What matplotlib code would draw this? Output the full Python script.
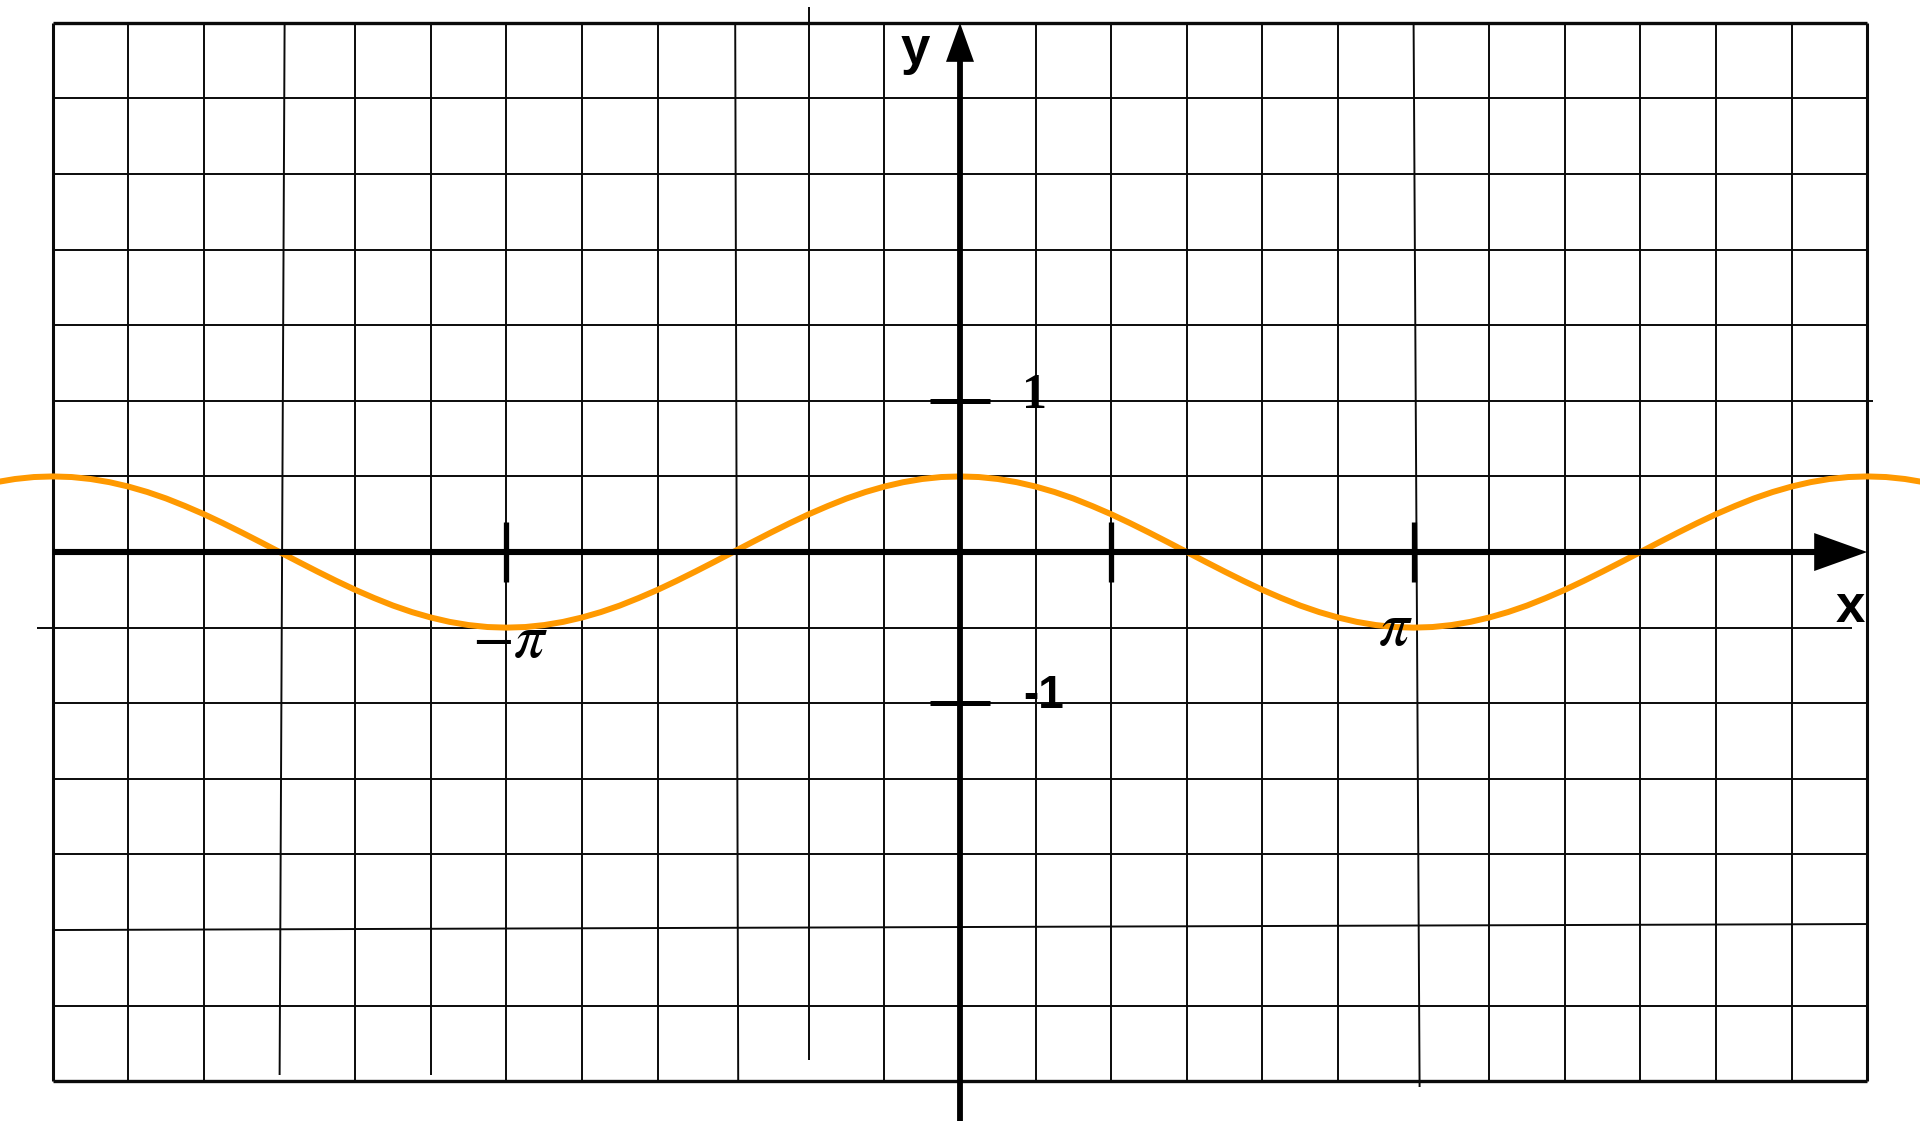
"""Graph of y = 0.5 cos x drawn on squared paper, with hand-drawn axes."""

import numpy as np
import matplotlib
matplotlib.use("Agg")
import matplotlib.pyplot as plt

# one grid cell is pi/6 along x and 0.5 along y
CELL_X = np.pi / 6
CELL_Y = 0.5

grid_cols = list(range(-12, 13))   # vertical lines, in cells
grid_rows = list(range(-7, 8))     # horizontal lines, in cells

# y = 0.5 cos x every quarter cell (pi/24), x from -13 to 13 cells
curve_steps = list(range(-52, 53))
curve_y = [
    0.433, 0.462, 0.483, 0.496,
    0.5, 0.496, 0.483, 0.462, 0.433, 0.397, 0.354, 0.304, 0.25, 0.191, 0.129, 0.065,
    0.0, -0.065, -0.129, -0.191, -0.25, -0.304, -0.354, -0.397, -0.433, -0.462, -0.483, -0.496,
    -0.5, -0.496, -0.483, -0.462, -0.433, -0.397, -0.354, -0.304, -0.25, -0.191, -0.129, -0.065,
    0.0, 0.065, 0.129, 0.191, 0.25, 0.304, 0.354, 0.397, 0.433, 0.462, 0.483, 0.496,
    0.5, 0.496, 0.483, 0.462, 0.433, 0.397, 0.354, 0.304, 0.25, 0.191, 0.129, 0.065,
    0.0, -0.065, -0.129, -0.191, -0.25, -0.304, -0.354, -0.397, -0.433, -0.462, -0.483, -0.496,
    -0.5, -0.496, -0.483, -0.462, -0.433, -0.397, -0.354, -0.304, -0.25, -0.191, -0.129, -0.065,
    0.0, 0.065, 0.129, 0.191, 0.25, 0.304, 0.354, 0.397, 0.433, 0.462, 0.483, 0.496,
    0.5, 0.496, 0.483, 0.462, 0.433,
]

x_ticks = [-np.pi, np.pi / 3, np.pi]
x_tick_labels = [r"$-\pi$", "", r"$\pi$"]
y_ticks = [1, -1]
y_tick_labels = ["1", "-1"]

W, H = 1920, 1121
X_LIM = (-6.649, 6.649)
Y_LIM = (-3.763, 3.651)
SX = (X_LIM[1] - X_LIM[0]) / W
SY = (Y_LIM[1] - Y_LIM[0]) / H


def px(x, y):
    """Pixel position (from top-left) to data coordinates."""
    return X_LIM[0] + x * SX, Y_LIM[1] - y * SY


ORANGE = "#FF9900"
INK = "#0a0a0a"

plt.rcParams["mathtext.fontset"] = "stix"

fig = plt.figure(figsize=(W / 100, H / 100), dpi=100)
ax = fig.add_axes([0, 0, 1, 1])
ax.set_xlim(*X_LIM)
ax.set_ylim(*Y_LIM)
ax.axis("off")

x_min, x_max = grid_cols[0] * CELL_X, grid_cols[-1] * CELL_X
y_min, y_max = grid_rows[0] * CELL_Y, grid_rows[-1] * CELL_Y

# small irregularities of the hand-drawn paper: (top dx px, bottom dx px, top y px, bottom y px)
col_quirks = {
    -9: (5, 0, None, 1075),
    -7: (0, 0, None, 1075),
    -3: (2, 5, None, None),
    -2: (0, 0, 7, 1060),
    6: (0, 6, None, 1087),
}
# (left x px, right x px, right dy px)
row_quirks = {
    -1: (37, 1852, 0),
    2: (52, 1873, 0),
    -5: (52, 1867, -6),
}

for k in grid_cols:
    if k == 0:
        continue
    x = k * CELL_X
    dxt, dxb, yt, yb = col_quirks.get(k, (0, 0, None, None))
    top = y_max if yt is None else px(0, yt)[1]
    bot = y_min if yb is None else px(0, yb)[1]
    lw = 2.2 if abs(k) == 12 else 1.4
    ax.plot([x + dxt * SX, x + dxb * SX], [top, bot], color=INK, lw=lw,
            solid_capstyle="butt", zorder=1)

for j in grid_rows:
    if j == 0:
        continue
    y = j * CELL_Y
    left, right, dyr = x_min, x_max, 0
    if j in row_quirks:
        lx, rx, dyr = row_quirks[j]
        left, right = px(lx, 0)[0], px(rx, 0)[0]
    lw = 2.4 if abs(j) == 7 else 1.4
    ax.plot([left, right], [y, y - dyr * SY], color=INK, lw=lw,
            solid_capstyle="butt", zorder=1)

# the curve
curve_x = np.array(curve_steps) * np.pi / 24
ax.plot(curve_x, curve_y, color=ORANGE, lw=4.3, solid_capstyle="butt",
        solid_joinstyle="round", zorder=3)

# x axis with arrow head
head_len, head_half = 53, 19
ax.plot([x_min, x_max - head_len * SX * 0.8], [0, 0], color="black", lw=4.4,
        solid_capstyle="butt", zorder=4)
ax.fill([x_max, x_max - head_len * SX, x_max - head_len * SX],
        [0, head_half * SY, -head_half * SY], color="black", lw=0, zorder=4)

# y axis with arrow head
head_len, head_half = 39, 14
ax.plot([0, 0], [Y_LIM[0], y_max - head_len * SY * 0.8], color="black", lw=4.2,
        solid_capstyle="butt", zorder=4)
ax.fill([0, -head_half * SX, head_half * SX],
        [y_max, y_max - head_len * SY, y_max - head_len * SY], color="black", lw=0, zorder=4)

# ticks
for t in x_ticks:
    ax.plot([t, t], [30 * SY, -30 * SY], color="black", lw=3.8,
            solid_capstyle="butt", zorder=4)
for t in y_ticks:
    ax.plot([-30 * SX, 30 * SX], [t, t], color="black", lw=3.6,
            solid_capstyle="butt", zorder=4)

# tick labels
lx, ly = px(510, 640)
ax.text(lx, ly, x_tick_labels[0], fontsize=44, ha="center", va="center", zorder=5)
lx, ly = px(1395, 628)
ax.text(lx, ly, x_tick_labels[2], fontsize=44, ha="center", va="center", zorder=5)

lx, ly = px(1035, 396)
ax.text(lx, ly, y_tick_labels[0], fontsize=36, family="Liberation Serif",
        fontweight="bold", ha="center", va="center", zorder=5)
lx, ly = px(1023, 696)
ax.text(lx, ly, y_tick_labels[1], fontsize=33, family="Liberation Sans",
        fontweight="bold", ha="left", va="center", zorder=5)

# axis names
lx, ly = px(915, 50)
ax.text(lx, ly, "y", fontsize=38, family="Liberation Sans", fontweight="bold",
        ha="center", va="center", zorder=5)
lx, ly = px(1850, 608)
ax.text(lx, ly, "x", fontsize=38, family="Liberation Sans", fontweight="bold",
        ha="center", va="center", zorder=5)

fig.savefig("out.png", dpi=100, facecolor="white")
plt.close(fig)
